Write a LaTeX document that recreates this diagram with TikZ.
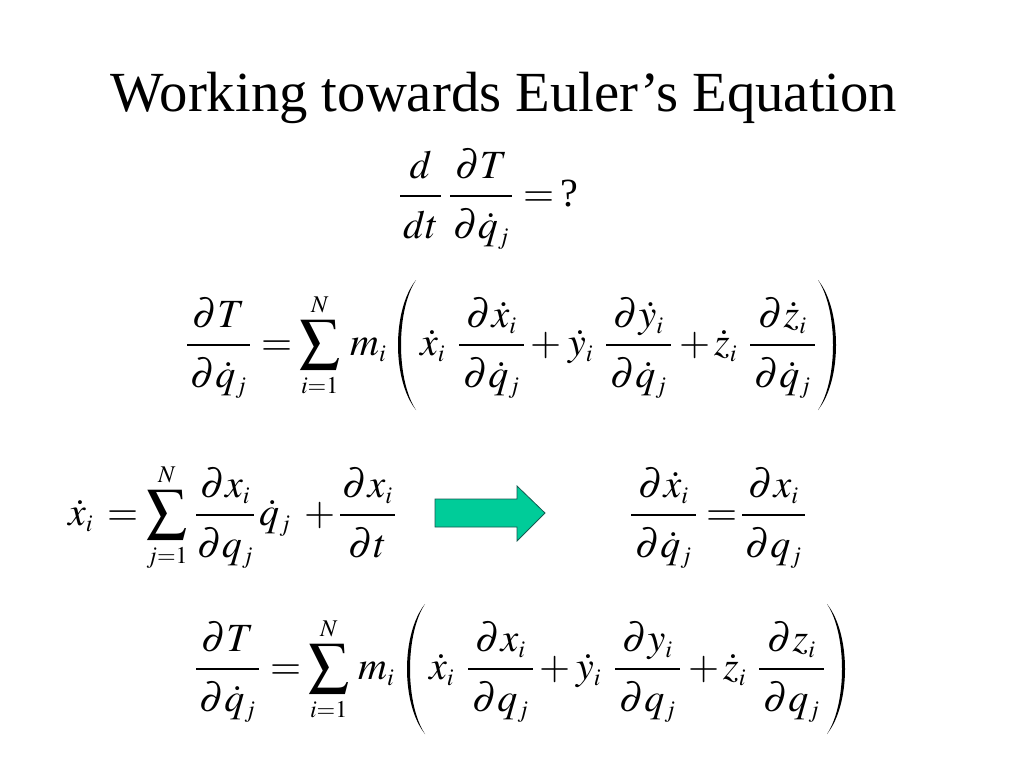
\documentclass[tikz,border=0pt]{standalone}
\usepackage{amsmath}
\usepackage{mathptmx}
\usepackage[no-math]{fontspec}
\setmainfont{Liberation Serif}
\DeclareMathSizes{40}{40}{24}{18}
\definecolor{arrowfill}{RGB}{0,204,153}
\definecolor{arrowline}{RGB}{20,90,80}
\tikzset{
  eq/.style={inner sep=0pt,anchor=base west,font=\fontsize{40}{46}\selectfont,execute at begin node={\nulldelimiterspace=0pt}},
  paren/.style={fill=black,draw=none}
}
\newcommand{\fr}[3]{\dfrac{#2}{\makebox[#1pt]{$\displaystyle\rule{0pt}{37pt}#3$}}}
\newcommand{\pf}[3]{\fr{#1}{\partial #2}{\partial #3}}
\newcommand{\lpar}[1]{\begin{scope}[shift={(#1)}]\fill[paren] (18,-65) .. controls (-6,-35) and (-6,35) .. (18,65) .. controls (-2,35) and (-2,-35) .. (18,-65) -- cycle;\end{scope}}
\newcommand{\rpar}[1]{\begin{scope}[shift={(#1)}]\fill[paren] (-18,-65) .. controls (6,-35) and (6,35) .. (-18,65) .. controls (2,35) and (2,-35) .. (-18,-65) -- cycle;\end{scope}}
\begin{document}
\begin{tikzpicture}[x=1pt,y=-1pt]
\useasboundingbox (0,0) rectangle (1024,768);
\fill[white] (0,0) rectangle (1024,768);
\node[anchor=center,inner sep=0pt,font=\fontsize{56.7}{62}\selectfont] (title) at (504,98) {Working towards Euler’s Equation};
% first equation
\node[eq] (a1) at (400,206) {$\displaystyle\fr{41}{d}{dt}$};
\node[eq] (a2) at (450,206) {$\displaystyle\pf{62}{T}{\dot q_{j}}$};
\node[eq] (a3) at (523,206) {$=$};
\node[eq] (a4) at (560,206) {?};
% second equation
\node[eq] (b1) at (187,355) {$\displaystyle\pf{63}{T}{\dot q_{j}}$};
\node[eq] (b2) at (261,355) {$=$};
\node[eq] (b3) at (299,355) {$\displaystyle\sum_{i=1}^{N}$};
\node[eq] (b4) at (350,355) {$\displaystyle m_i$};
\coordinate (b5) at (398,345);
\node[eq] (b6) at (420,355) {$\displaystyle\dot x_i$};
\node[eq] (b7) at (459,355) {$\displaystyle\pf{65}{\dot x_i}{\dot q_{j}}$};
\node[eq] (b8) at (530,355) {$+$};
\node[eq] (b9) at (568,355) {$\displaystyle\dot y_i$};
\node[eq] (b10) at (606,355) {$\displaystyle\pf{65}{\dot y_i}{\dot q_{j}}$};
\node[eq] (b11) at (679,355) {$+$};
\node[eq] (b12) at (714,355) {$\displaystyle\dot z_i$};
\node[eq] (b13) at (750,355) {$\displaystyle\pf{65}{\dot z_i}{\dot q_{j}}$};
\coordinate (b14) at (836,345);
\lpar{b5}
\rpar{b14}
% third equation
\node[eq] (c1) at (68,525) {$\displaystyle\dot x_i$};
\node[eq] (c2) at (107,525) {$=$};
\node[eq] (c3) at (146,525) {$\displaystyle\sum_{j=1}^{N}$};
\node[eq] (c4) at (196,525) {$\displaystyle\pf{58}{x_i}{q_{j}}$};
\node[eq] (c5) at (259,525) {$\displaystyle\dot q_{j}$};
\node[eq] (c6) at (304,525) {$+$};
\node[eq] (c7) at (340,525) {$\displaystyle\pf{55}{x_i}{t}$};
% arrow
\draw[fill=arrowfill,draw=arrowline,line width=0.8pt] (435,499) -- (517,499) -- (517,486) -- (545,513) -- (517,541) -- (517,527) -- (435,527) -- cycle;
% fourth equation
\node[eq] (d1) at (631,525) {$\displaystyle\pf{65}{\dot x_i}{\dot q_{j}}$};
\node[eq] (d2) at (706,525) {$=$};
\node[eq] (d3) at (742,525) {$\displaystyle\pf{63}{x_i}{q_{j}}$};
% fifth equation
\node[eq] (e1) at (196,679) {$\displaystyle\pf{63}{T}{\dot q_{j}}$};
\node[eq] (e2) at (270,679) {$=$};
\node[eq] (e3) at (308,679) {$\displaystyle\sum_{i=1}^{N}$};
\node[eq] (e4) at (358,679) {$\displaystyle m_i$};
\coordinate (e5) at (407,669);
\node[eq] (e6) at (429,679) {$\displaystyle\dot x_i$};
\node[eq] (e7) at (468,679) {$\displaystyle\pf{65}{x_i}{q_{j}}$};
\node[eq] (e8) at (539,679) {$+$};
\node[eq] (e9) at (576,679) {$\displaystyle\dot y_i$};
\node[eq] (e10) at (615,679) {$\displaystyle\pf{65}{y_i}{q_{j}}$};
\node[eq] (e11) at (688,679) {$+$};
\node[eq] (e12) at (723,679) {$\displaystyle\dot z_i$};
\node[eq] (e13) at (759,679) {$\displaystyle\pf{65}{z_i}{q_{j}}$};
\coordinate (e14) at (845,669);
\lpar{e5}
\rpar{e14}
\end{tikzpicture}
\end{document}
